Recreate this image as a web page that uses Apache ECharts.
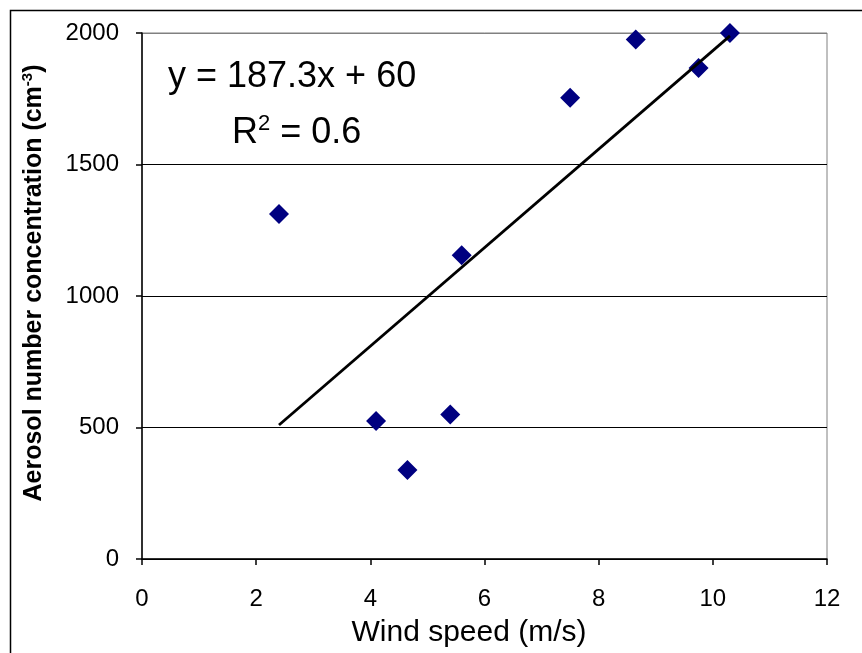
<!DOCTYPE html>
<html>
<head>
<meta charset="utf-8">
<script src="https://cdn.jsdelivr.net/npm/echarts@6/dist/echarts.min.js"></script>
<style>
html,body{margin:0;padding:0;background:#fff;}
#chart{width:862px;height:653px;}
</style>
</head>
<body>
<div id="chart"></div>
<script>
// Data
const windSpeed = [2.4, 4.1, 4.65, 5.4, 5.6, 7.5, 8.65, 9.75, 10.3];
const concentration = [1312, 525, 338, 549, 1155, 1754, 1975, 1867, 2000];
const trendSlope = 187.3;
const trendIntercept = 60;
const xTicks = [0, 2, 4, 6, 8, 10, 12];
const yTicks = [0, 500, 1000, 1500, 2000];
const equationText = 'y = 187.3x + 60';
const r2Text = '0.6';
const xTitle = 'Wind speed (m/s)';
const yTitle = 'Aerosol number concentration (cm';

const FONT = '"Liberation Sans", Arial, sans-serif';
const points = windSpeed.map((x, i) => [x, concentration[i]]);
const xMinData = Math.min(...windSpeed);
const xMaxData = Math.max(...windSpeed);
const trend = [xMinData, xMaxData].map(x => [x, trendSlope * x + trendIntercept]);

const chart = echarts.init(document.getElementById('chart'), null, {renderer: 'canvas'});
chart.setOption({
  animation: false,
  backgroundColor: '#ffffff',
  grid: {left: 142, right: 35, top: 33, bottom: 94, show: true, borderColor: '#808080', borderWidth: 1, backgroundColor: 'transparent'},
  xAxis: {
    type: 'value', min: xTicks[0], max: xTicks[xTicks.length - 1], interval: 2,
    axisLine: {show: true, onZero: false, lineStyle: {color: '#000', width: 1.5}},
    axisTick: {show: true, inside: false, length: 6, lineStyle: {color: '#000', width: 1.5}},
    axisLabel: {fontFamily: FONT, fontSize: 24, color: '#000', margin: 28, formatter: v => String(v)},
    splitLine: {show: false}
  },
  yAxis: {
    type: 'value', min: yTicks[0], max: yTicks[yTicks.length - 1], interval: 500,
    axisLine: {show: true, onZero: false, lineStyle: {color: '#000', width: 1.5}},
    axisTick: {show: true, inside: false, length: 6, lineStyle: {color: '#000', width: 1.5}},
    axisLabel: {fontFamily: FONT, fontSize: 24, color: '#000', margin: 23, formatter: v => String(v)},
    splitLine: {show: true, lineStyle: {color: ['#000', '#000', '#000', '#000', '#808080'], width: 1.2}}
  },
  series: [
    {
      type: 'scatter', data: points, symbol: 'diamond', symbolSize: 20,
      itemStyle: {color: '#000080', opacity: 1}, z: 3
    },
    {
      type: 'line', data: trend, symbol: 'none', z: 4,
      lineStyle: {color: '#000', width: 2.8}
    }
  ],
  graphic: [
    {type: 'rect', left: 8, top: 8, shape: {width: 900, height: 700}, style: {fill: 'none', stroke: '#000', lineWidth: 1.5}, silent: true},
    {type: 'text', x: 168, y: 77, style: {text: equationText, font: '36px ' + FONT, fill: '#000', verticalAlign: 'middle', align: 'left'}},
    {type: 'text', x: 232, y: 133, style: {
      text: '{m|R}{s|2}{m| = ' + r2Text + '}',
      verticalAlign: 'middle', align: 'left',
      rich: {
        m: {fontFamily: FONT, fontSize: 36, fill: '#000', color: '#000', lineHeight: 40},
        s: {fontFamily: FONT, fontSize: 22, fill: '#000', color: '#000', lineHeight: 40, verticalAlign: 'top', padding: [0, 0, 16, 0]}
      }
    }},
    {type: 'text', x: 469, y: 633, style: {text: xTitle, font: '30px ' + FONT, fill: '#000', verticalAlign: 'middle', align: 'center'}},
    {type: 'text', x: 34, y: 283, rotation: Math.PI / 2, style: {
      text: '{m|' + yTitle + '}{s|-3}{m|)}',
      verticalAlign: 'middle', align: 'center',
      rich: {
        m: {fontFamily: FONT, fontSize: 25, fontWeight: 'bold', fill: '#000', color: '#000', lineHeight: 30},
        s: {fontFamily: FONT, fontSize: 15, fontWeight: 'bold', fill: '#000', color: '#000', lineHeight: 30, padding: [0, 0, 12, 0]}
      }
    }}
  ]
});
</script>
</body>
</html>
